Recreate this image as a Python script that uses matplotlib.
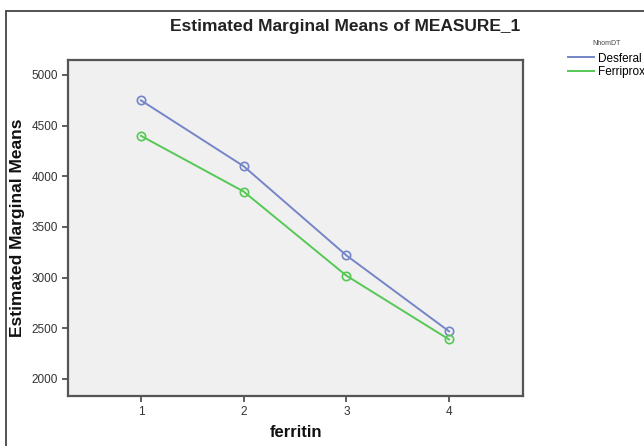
import matplotlib
matplotlib.use("Agg")
import matplotlib.pyplot as plt
from matplotlib.patches import Rectangle

plt.rcParams["font.family"] = ["Liberation Sans", "DejaVu Sans"]

ferritin = [1, 2, 3, 4]
desferal = [4750, 4100, 3220, 2470]
ferriprox = [4400, 3850, 3020, 2390]
yticks = [2000, 2500, 3000, 3500, 4000, 4500, 5000]

W, H = 644, 446
fig = plt.figure(figsize=(W / 100, H / 100), dpi=100)
fig.patch.set_facecolor("white")

# outer frame
fig.add_artist(Rectangle((6 / W, -0.1), 1.2, (H - 11) / H + 0.1, transform=fig.transFigure,
                         fill=False, edgecolor="#444444", linewidth=1.3, clip_on=False))

ax = fig.add_axes([68 / W, 1 - 396 / H, (523 - 68) / W, (396 - 60) / H])
ax.set_facecolor("#f0f0f0")
for s in ax.spines.values():
    s.set_color("#555555")
    s.set_linewidth(1.6)

ax.plot(ferritin, desferal, color="#7585c8", lw=1.4, marker="o", ms=6,
        mfc="none", mec="#7585c8", mew=1.2, label="Desferal")
ax.plot(ferritin, ferriprox, color="#55c855", lw=1.4, marker="o", ms=6,
        mfc="none", mec="#55c855", mew=1.2, label="Ferriprox")

ax.set_xlim(0.29, 4.72)
ax.set_ylim(1832, 5148)
ax.set_xticks(ferritin)
ax.set_yticks(yticks)
ax.tick_params(axis="both", direction="out", length=4, width=1.2, color="#444444",
               labelsize=8.5, labelcolor="#333333", pad=3)

ax.set_xlabel("ferritin", fontsize=12, fontweight="bold", labelpad=5, color="#111111")
ax.set_ylabel("Estimated Marginal Means", fontsize=12.5, fontweight="bold",
              family=["Liberation Sans Narrow", "Liberation Sans"], color="#111111")
ax.yaxis.set_label_coords(-(68 - 25) / (523 - 68), 0.5)

fig.text(345 / W, 1 - 26 / H, "Estimated Marginal Means of MEASURE_1",
         ha="center", va="center", fontsize=12.5, fontweight="bold", color="#222222")

leg = ax.legend(loc="upper left", bbox_to_anchor=(568 / W, 1 - 40 / H),
                bbox_transform=fig.transFigure, frameon=False, title="NhomDT",
                fontsize=8.5, title_fontsize=5, handlelength=2.2, handletextpad=0.3,
                labelspacing=0.15, borderpad=0, borderaxespad=0)
leg._legend_box.sep = 4
leg.get_title().set_color("#444444")
for lh in leg.legend_handles:
    lh.set_marker("")

fig.savefig("out.png", dpi=100)
